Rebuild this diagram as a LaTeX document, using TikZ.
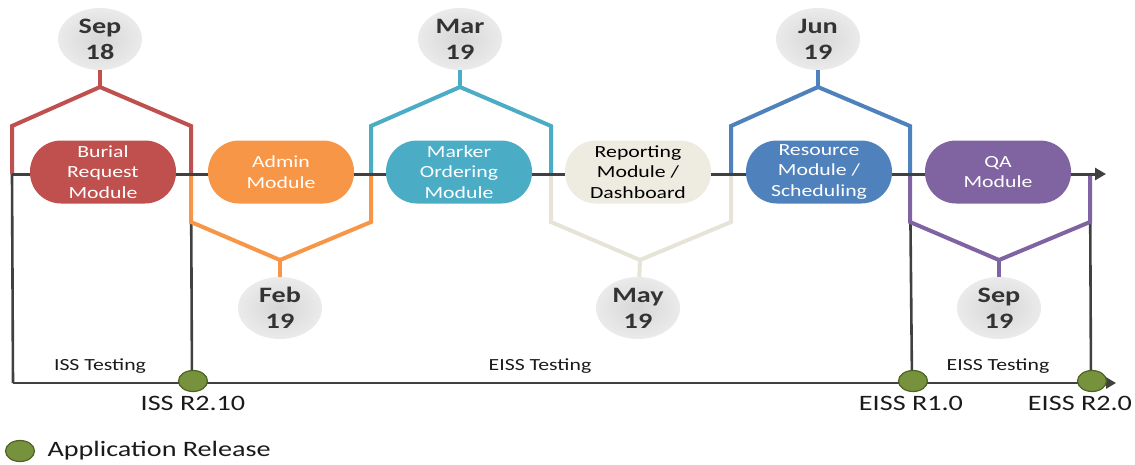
\documentclass[tikz,border=0pt]{standalone}
\usepackage{fontspec}
\setmainfont{Carlito}[FakeStretch=1.28]
\definecolor{Redcol}{HTML}{C0504D}
\definecolor{Orgcol}{HTML}{F79646}
\definecolor{Tealcol}{HTML}{4BACC6}
\definecolor{Creamcol}{HTML}{EEECE1}
\definecolor{Creamline}{HTML}{E6E4D6}
\definecolor{Bluecol}{HTML}{4F81BD}
\definecolor{Purpcol}{HTML}{8064A2}
\definecolor{Relcol}{HTML}{76923C}
\definecolor{Relborder}{HTML}{4F6228}
\definecolor{Linecol}{HTML}{404040}
\definecolor{Textcol}{HTML}{1A1A1A}
\definecolor{Datecol}{HTML}{333333}
\usetikzlibrary{calc, shapes.geometric, arrows.meta}
\tikzset{
    >=Stealth,
    module/.style={rectangle, rounded corners=31pt, minimum width=146pt, minimum height=63pt,
        inner sep=2pt, align=center, text=white, font=\fontsize{17}{20.5}\selectfont},
    datebubble/.style={ellipse, minimum width=84pt, minimum height=62pt, inner sep=0pt,
        shade, inner color=black!16, outer color=black!8, align=center, text=Datecol,
        font=\bfseries\fontsize{22}{26}\selectfont},
    bracket/.style={line width=4pt},
    phase/.style={line width=2.6pt, draw=Linecol},
    release/.style={ellipse, minimum width=29pt, minimum height=21pt, inner sep=0pt,
        fill=Relcol, draw=Relborder, line width=1.2pt},
    rellabel/.style={font=\fontsize{22}{26}\selectfont, text=Textcol},
    testlabel/.style={font=\fontsize{17}{20}\selectfont, text=Textcol}
}

\begin{document}
\begin{tikzpicture}[x=1pt, y=-1pt]
    \useasboundingbox (0,0) rectangle (1135,464);

    % Column boundaries on the timeline
    \coordinate (c0) at (12,174);
    \coordinate (c1) at (191,174);
    \coordinate (c2) at (371,174);
    \coordinate (c3) at (551,174);
    \coordinate (c4) at (731,174);
    \coordinate (c5) at (910,174);
    \coordinate (c6) at (1090,174);

    % Bracket apexes (above: odd columns, below: even columns)
    \coordinate (a1) at (100,87);
    \coordinate (a2) at (280,260);
    \coordinate (a3) at (460,87);
    \coordinate (a4) at (640,260);
    \coordinate (a5) at (818,87);
    \coordinate (a6) at (999,260);

    % Month bubbles
    \node[datebubble] (sep18) at (100,39) {Sep\\18};
    \node[datebubble] (feb19) at (280,308) {Feb\\19};
    \node[datebubble] (mar19) at (460,39) {Mar\\19};
    \node[datebubble] (may19) at (638,308) {May\\19};
    \node[datebubble] (jun19) at (818,39) {Jun\\19};
    \node[datebubble] (sep19) at (999,308) {Sep\\19};

    % Testing phases and release line
    \coordinate (b0) at (13,383);
    \coordinate (bend) at (1116,383);
    \draw[phase] (c0) -- (b0);
    \draw[phase] (c1) -- (192,383);
    \draw[phase] (c5) -- (912,383);
    \draw[phase] (c6) -- (1091,383);
    \draw[phase, -{Triangle[length=10pt, width=11pt]}] (b0) -- (bend);

    % Brackets to the month bubbles
    \draw[bracket, Redcol] (c0) -- ++(0,-48) -- (a1) -- ($(c1)+(0,-48)$) -- (c1);
    \draw[bracket, Redcol] (sep18) -- (a1);
    \draw[bracket, Orgcol] (c1) -- ++(0,48) -- (a2) -- ($(c2)+(0,48)$) -- (c2);
    \draw[bracket, Orgcol] (feb19) -- (a2);
    \draw[bracket, Tealcol] (c2) -- ++(0,-48) -- (a3) -- ($(c3)+(0,-48)$) -- (c3);
    \draw[bracket, Tealcol] (mar19) -- (a3);
    \draw[bracket, Creamline] (c3) -- ++(0,48) -- (a4) -- ($(c4)+(0,48)$) -- (c4);
    \draw[bracket, Creamline] (may19) -- (a4);
    \draw[bracket, Bluecol] (c4) -- ++(0,-48) -- (a5) -- ($(c5)+(0,-48)$) -- (c5);
    \draw[bracket, Bluecol] (jun19) -- (a5);
    \draw[bracket, Purpcol] (c5) -- ++(0,48) -- (a6) -- ($(c6)+(0,48)$) -- (c6);
    \draw[bracket, Purpcol] (sep19) -- (a6);

    % Main timeline
    \coordinate (tend) at (1106,174);
    \draw[line width=3pt, Linecol, -{Triangle[length=11pt, width=12pt]}] (c0) -- (tend);

    % Modules
    \node[module, fill=Redcol] (burial) at (103,172) {Burial\\Request\\Module};
    \node[module, fill=Orgcol] (admin) at (281,172) {Admin\\Module};
    \node[module, fill=Tealcol] (marker) at (459,172) {Marker\\Ordering\\Module};
    \node[module, fill=Creamcol, text=black] (reporting) at (638,172) {Reporting\\Module /\\Dashboard};
    \node[module, fill=Bluecol] (resource) at (819,172) {Resource\\Module /\\Scheduling};
    \node[module, fill=Purpcol] (qa) at (998,172) {QA\\Module};

    % Testing labels
    \node[testlabel] (isstest) at (100,366) {ISS Testing};
    \node[testlabel] (eisstest) at (540,366) {EISS Testing};
    \node[testlabel] (eisstest2) at (998,366) {EISS Testing};

    % Releases
    \node[release] (iss210) at (193,381) {};
    \node[release] (eiss10) at (913,381) {};
    \node[release] (eiss20) at (1092,381) {};
    \node[rellabel] at (193,403) {ISS R2.10};
    \node[rellabel] at (911,403) {EISS R1.0};
    \node[rellabel] at (1080,403) {EISS R2.0};

    % Legend
    \node[release] (legdot) at (20,451) {};
    \node[rellabel, anchor=west] (legtext) at (44,451) {Application Release};
\end{tikzpicture}
\end{document}
